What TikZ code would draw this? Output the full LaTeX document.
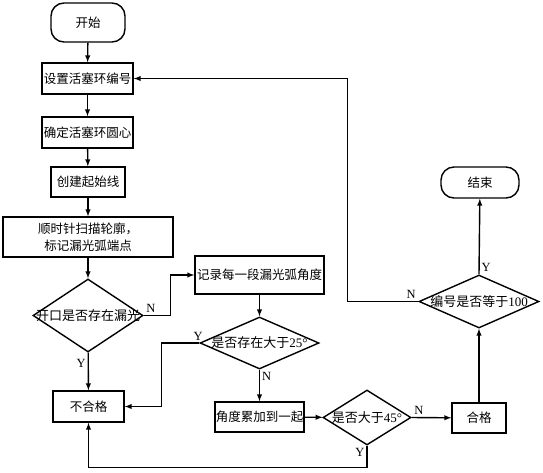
\documentclass[tikz,border=0pt]{standalone}
\usepackage{fontspec}
\setmainfont{Liberation Serif}
\newfontfamily\cjk{Noto Sans CJK SC}
\usetikzlibrary{shapes.geometric}

\begin{document}
\begin{tikzpicture}[>=latex, x=1pt, y=-1pt, line width=1.4pt,
    every node/.style={font=\fontsize{12.5}{17}\selectfont\cjk, inner sep=0pt},
    khoi/.style={draw, rectangle, minimum height=31pt},
    mobien/.style={draw, rectangle, rounded corners=13pt},
    thoi/.style={draw, diamond},
    chu/.style={font=\fontsize{13}{15}\selectfont\cjk},
    nhan/.style={font=\fontsize{12.5}{15}\selectfont\rmfamily, inner sep=2pt}]
    \useasboundingbox (0,0) rectangle (543,472);

    % Khối bắt đầu, kết thúc
    \node[mobien, minimum width=74pt, minimum height=39pt] (batdau) at (88,22.5) {开始};
    \node[mobien, minimum width=78pt, minimum height=31pt] (ketthuc) at (480,182.5) {结束};

    % Các khối xử lý
    \node[khoi, minimum width=91pt] (sohieu) at (87.5,78.5) {设置活塞环编号};
    \node[khoi, minimum width=91pt] (tamvong) at (87.5,132.5) {确定活塞环圆心};
    \node[khoi, minimum width=74pt, minimum height=30pt] (duongbd) at (88,182) {创建起始线};
    \node[khoi, minimum width=170pt, minimum height=40pt, align=center] (quet) at (88,237)
        {顺时针扫描轮廓，\\标记漏光弧端点};
    \node[khoi, minimum width=71pt] (khonghop) at (88.5,406.5) {不合格};
    \node[khoi, minimum width=129pt, minimum height=38pt] (ghigoc) at (259.5,275) {记录每一段漏光弧角度};
    \node[khoi, minimum width=89pt, minimum height=30pt] (conggoc) at (259.5,417) {角度累加到一起};
    \node[khoi, minimum width=54pt, minimum height=30pt] (hople) at (479,418) {合格};

    % Các khối điều kiện
    \node[thoi, minimum width=110pt, minimum height=73pt] (kt1) at (88,315.5) {};
    \node[chu] at (kt1) {开口是否存在漏光};
    \node[thoi, minimum width=119pt, minimum height=52pt] (kt2) at (259.5,343) {};
    \node[chu] at (kt2) {是否存在大于{\rmfamily 25°}};
    \node[thoi, minimum width=88pt, minimum height=55pt] (kt3) at (367,417.5) {};
    \node[chu] at (kt3) {是否大于{\rmfamily 45°}};
    \node[thoi, minimum width=120pt, minimum height=53pt] (kt4) at (479,301.5) {};
    \node[chu] at (kt4) {编号是否等于{\rmfamily 100}};

    % Đường nối
    \draw[->] (batdau) -- (sohieu);
    \draw[->] (sohieu) -- (tamvong);
    \draw[->] (tamvong) -- (duongbd);
    \draw[->] (duongbd) -- (quet);
    \draw[->] (quet) -- (kt1);
    \draw[->] (kt1) -- node[nhan, left, pos=0.3] {Y} (khonghop);
    \draw[->] (kt1.east) node[nhan, above right] {N} -- ++(27,0) |- (ghigoc.west);
    \draw[->] (ghigoc) -- (kt2);
    \draw[->] (kt2.west) node[nhan, above left, xshift=6pt] {Y} -- ++(-38,0) |- (khonghop.east);
    \draw[->] (kt2) -- node[nhan, right, pos=0.2] {N} (conggoc);
    \draw[->] (conggoc) -- (kt3);
    \draw[->] (kt3.east) node[nhan, above right] {N} -- (hople);
    \draw[->] (kt3.south) node[nhan, below left] {Y} -- ++(0,22) -| (khonghop.south);
    \draw[->] (hople) -- (kt4);
    \draw[->] (kt4.north) node[nhan, above right] {Y} -- (ketthuc);
    \draw[->] (kt4.west) node[nhan, above left] {N} -- ++(-71,0) |- (sohieu.east);
\end{tikzpicture}
\end{document}
